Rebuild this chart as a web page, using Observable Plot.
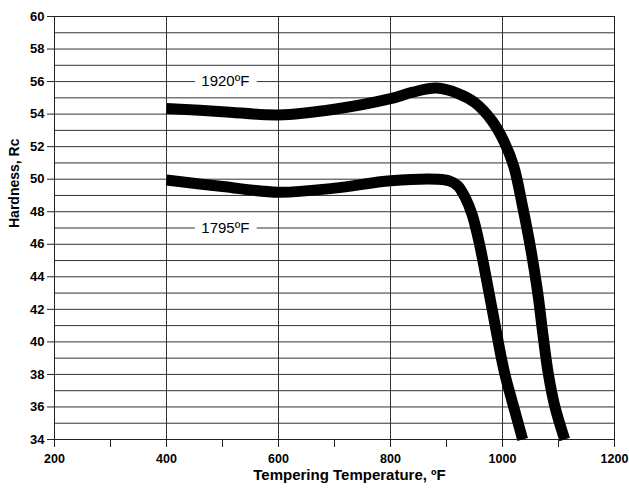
<!DOCTYPE html>
<html><head><meta charset="utf-8">
<script src="https://cdn.jsdelivr.net/npm/d3@7"></script>
<script src="https://cdn.jsdelivr.net/npm/@observablehq/plot@0.6"></script>
<style>body{margin:0;background:#fff} svg{display:block;background:#fff}</style>
</head><body><div id="chart"></div>
<script>
// Series: austenitizing 1920ºF
const temps1920 = [400, 500, 600, 700, 800, 840, 882, 922, 951, 981, 1003, 1020, 1036, 1050, 1063, 1072, 1082, 1093, 1111];
const hard1920  = [54.35, 54.15, 53.95, 54.3, 54.95, 55.35, 55.6, 55.25, 54.7, 53.6, 52.3, 50.8, 48.3, 45.8, 43.0, 40.5, 38.0, 36.1, 34];
// Series: austenitizing 1795ºF
const temps1795 = [400, 500, 600, 700, 800, 885, 905, 920, 933, 946, 959, 976, 987, 998, 1005, 1020, 1036];
const hard1795  = [49.95, 49.55, 49.2, 49.45, 49.9, 50.0, 49.9, 49.6, 48.9, 47.8, 46.0, 43.0, 41.0, 39.0, 37.9, 36.0, 34];
const seriesNames = ["1920ºF", "1795ºF"];
const labelTemps = [505, 505];
const labelHards = [56, 47];
const xTicks = [200, 300, 400, 500, 600, 700, 800, 900, 1000, 1100, 1200];
const xGridVals = [200, 400, 600, 800, 1000, 1200];
const yTicks = [34, 36, 38, 40, 42, 44, 46, 48, 50, 52, 54, 56, 58, 60];
const yGridVals = d3.range(34, 61, 1);

const data = [
  ...temps1920.map((t, i) => ({series: seriesNames[0], temp: t, hardness: hard1920[i]})),
  ...temps1795.map((t, i) => ({series: seriesNames[1], temp: t, hardness: hard1795[i]}))
];
const labels = seriesNames.map((s, i) => ({label: s, temp: labelTemps[i], hardness: labelHards[i]}));

const chart = Plot.plot({
  width: 629, height: 493,
  marginTop: 16, marginRight: 15, marginBottom: 54, marginLeft: 54,
  style: {fontFamily: "'Liberation Sans', Arial, sans-serif", fontSize: "13px", fontWeight: "bold", color: "#000", background: "#fff"},
  x: {domain: [200, 1200]},
  y: {domain: [34, 60]},
  marks: [
    Plot.ruleY(yGridVals, {stroke: "#333", strokeWidth: 1}),
    Plot.ruleX(xGridVals, {stroke: "#333", strokeWidth: 1}),
    Plot.frame({stroke: "#222"}),
    Plot.axisX({ticks: xTicks, tickSize: 8, tickPadding: 7, fontSize: 12.5, tickFormat: d => d % 200 === 0 ? String(d) : "", label: null, stroke: "#222"}),
    Plot.axisY({ticks: yTicks, tickSize: 7, tickPadding: 3, fontSize: 13, label: null, stroke: "#222"}),
    Plot.text(labels, {x: "temp", y: "hardness", text: "label", fill: "black", stroke: "white", strokeWidth: 16, fontSize: 15, fontWeight: "normal"}),
    Plot.line(data, {x: "temp", y: "hardness", z: "series", stroke: "black", strokeWidth: 11, curve: "catmull-rom", strokeLinecap: "butt"}),
    Plot.text(["Tempering Temperature, ºF"], {frameAnchor: "bottom", dy: 40, dx: 15, fontSize: 15}),
    Plot.text(["Hardness, Rc"], {frameAnchor: "left", dx: -40, rotate: -90, fontSize: 14})
  ]
});
document.getElementById("chart").append(chart);
</script>
</body></html>
